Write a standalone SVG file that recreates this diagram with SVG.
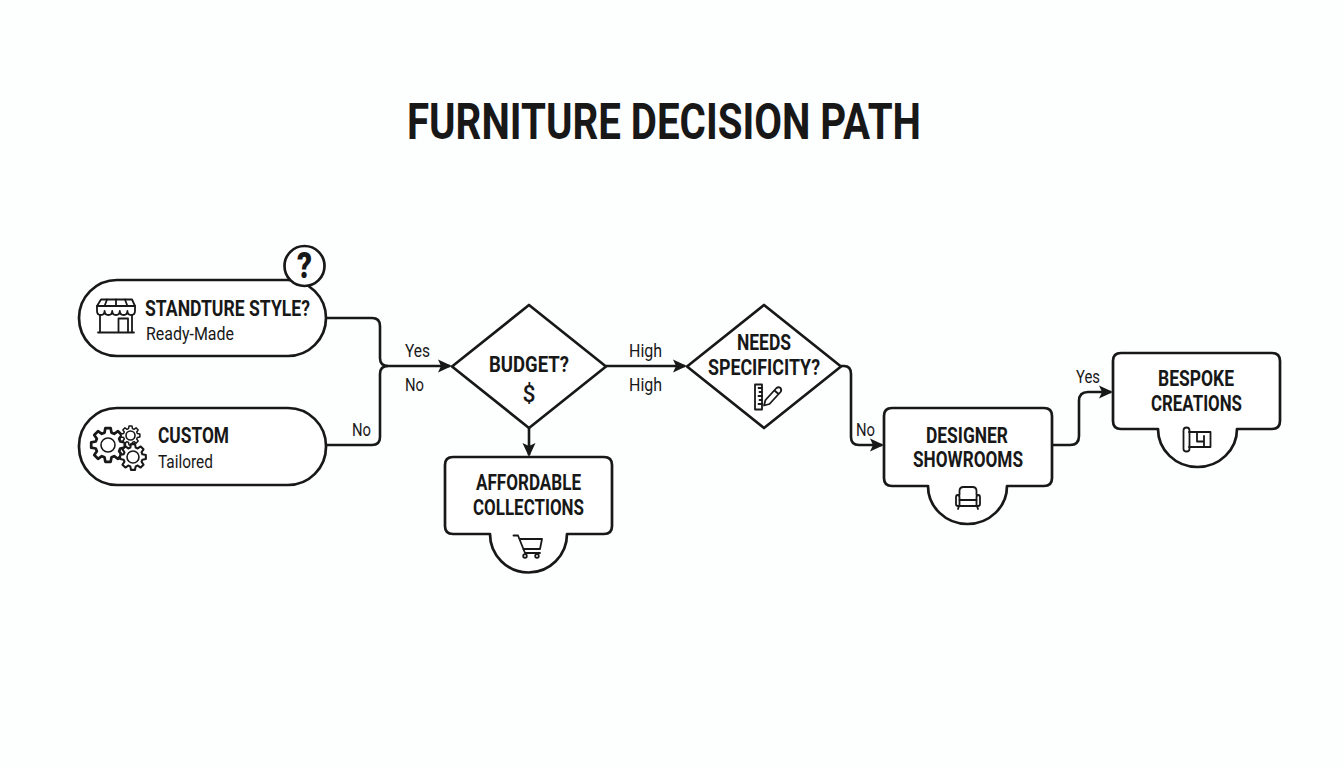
<svg xmlns="http://www.w3.org/2000/svg" width="1344" height="768" viewBox="0 0 1344 768">
<style>
text{font-family:"Roboto","Liberation Sans",sans-serif;fill:#181818;text-anchor:start}
.title{font-size:50px;font-weight:700}
.h{font-size:22.5px;font-weight:700}
.s{font-size:19px;font-weight:400}
.shape{fill:#fff;stroke:#181818;stroke-width:2.7;stroke-linejoin:round}
.conn{fill:none;stroke:#181818;stroke-width:2.6;stroke-linejoin:round}
.ico{fill:none;stroke:#181818;stroke-width:1.8;stroke-linejoin:round;stroke-linecap:round}
.ico *{vector-effect:non-scaling-stroke}
</style>
<defs>
<marker id="arrow" markerUnits="userSpaceOnUse" markerWidth="15" markerHeight="15" refX="12" refY="7.5" orient="auto">
<path d="M0,1 L14,7.500 L0,14 L3,7.500 Z" fill="#181818"/>
</marker>
<polygon id="gear" points="7.21,-2.07 9.88,-1.56 9.88,1.56 7.21,2.07 6.56,3.64 8.09,5.88 5.88,8.09 3.64,6.56 2.07,7.21 1.56,9.88 -1.56,9.88 -2.07,7.21 -3.64,6.56 -5.88,8.09 -8.09,5.88 -6.56,3.64 -7.21,2.07 -9.88,1.56 -9.88,-1.56 -7.21,-2.07 -6.56,-3.64 -8.09,-5.88 -5.88,-8.09 -3.64,-6.56 -2.07,-7.21 -1.56,-9.88 1.56,-9.88 2.07,-7.21 3.64,-6.56 5.88,-8.09 8.09,-5.88 6.56,-3.64"/>
</defs>
<rect width="1344" height="768" fill="#fdfefe"/>
<text id="title" class="title" x="407" y="138.500" textLength="514" lengthAdjust="spacingAndGlyphs">FURNITURE DECISION PATH</text>

<g id="connectors">
<path class="conn" d="M326,318 H372 Q380,318 380,326 V358 Q380,366 388,366 H450" marker-end="url(#arrow)"/>
<path class="conn" d="M326,445 H372 Q380,445 380,437 V374 Q380,366 388,366"/>
<path class="conn" d="M606,366 H685" marker-end="url(#arrow)"/>
<path class="conn" d="M529,428 V455" marker-end="url(#arrow)"/>
<path class="conn" d="M841,366 H844 Q851,366 851,374 V437 Q851,445 859,445 H882" marker-end="url(#arrow)"/>
<path class="conn" d="M1052,445 H1070 Q1079,445 1079,436 V401 Q1079,392 1088,392 H1111" marker-end="url(#arrow)"/>
<text class="s" x="405" y="357" textLength="25" lengthAdjust="spacingAndGlyphs">Yes</text>
<text class="s" x="405" y="391" textLength="19" lengthAdjust="spacingAndGlyphs">No</text>
<text class="s" x="352" y="436" textLength="19" lengthAdjust="spacingAndGlyphs">No</text>
<text class="s" x="629" y="357" textLength="33" lengthAdjust="spacingAndGlyphs">High</text>
<text class="s" x="629" y="391" textLength="33" lengthAdjust="spacingAndGlyphs">High</text>
<text class="s" x="856" y="436" textLength="19" lengthAdjust="spacingAndGlyphs">No</text>
<text class="s" x="1076" y="383" textLength="24" lengthAdjust="spacingAndGlyphs">Yes</text>
</g>

<g id="node-standture">
<rect class="shape" x="79" y="280" width="247" height="76" rx="38"/>
<circle class="shape" cx="304.500" cy="266" r="20"/>
<text x="297" y="278" textLength="15" lengthAdjust="spacingAndGlyphs" style="font-size:36.500px;font-weight:900">?</text>
<g class="ico">
<path d="M101,299.500 H132 L135,306 H97 Z"/>
<path d="M97,306 V311 Q97,315 100.800,315 Q104.600,315 104.600,311 Q104.600,315 108.400,315 Q112.200,315 112.200,311 Q112.200,315 116,315 Q119.800,315 119.800,311 Q119.800,315 123.600,315 Q127.400,315 127.400,311 Q127.400,315 131.200,315 Q135,315 135,311 V306"/>
<path d="M100,315 V332 M132,315 V332 M98,332.500 H134 M118.500,332 V318.500 H128 V332"/>
<path d="M107,299.500 L104.600,306 M116,299.500 V306 M125,299.500 L127.400,306"/>
</g>
<text class="h" x="145" y="316" textLength="165" lengthAdjust="spacingAndGlyphs">STANDTURE STYLE?</text>
<text class="s" x="146" y="340" textLength="88" lengthAdjust="spacingAndGlyphs">Ready-Made</text>
</g>

<g id="node-custom">
<rect class="shape" x="79" y="408" width="247" height="77" rx="38"/>
<g class="ico" style="stroke-width:1.6">
<use href="#gear" transform="translate(108,445) scale(1.7)"/>
<circle cx="108" cy="445" r="7"/>
<use href="#gear" transform="translate(130.500,435.500) scale(0.95)" fill="#fff"/>
<circle cx="130.500" cy="435.500" r="4.500"/>
<use href="#gear" transform="translate(133,457) scale(1.3)" fill="#fff"/>
<circle cx="133" cy="457" r="6"/>
</g>
<text class="h" x="158" y="443" textLength="71" lengthAdjust="spacingAndGlyphs">CUSTOM</text>
<text class="s" x="158" y="468" textLength="55" lengthAdjust="spacingAndGlyphs">Tailored</text>
</g>

<g id="node-budget">
<polygon class="shape" points="452,366.500 529,305 606,366.500 529,428"/>
<text class="h" x="489" y="372" textLength="80" lengthAdjust="spacingAndGlyphs">BUDGET?</text>
<text x="522.500" y="402" textLength="13" lengthAdjust="spacingAndGlyphs" style="font-size:23px;font-weight:500">$</text>
</g>

<g id="node-needs">
<polygon class="shape" points="687,366.500 764,305 841,366.500 764,428"/>
<text class="h" x="737" y="350" textLength="54" lengthAdjust="spacingAndGlyphs">NEEDS</text>
<text class="h" x="708" y="375" textLength="112" lengthAdjust="spacingAndGlyphs">SPECIFICITY?</text>
<g class="ico">
<rect x="755" y="384.500" width="7" height="25"/>
<path d="M758.500,388 H762 M759.500,392 H762 M758.500,396 H762 M759.500,400 H762 M758.500,404 H762"/>
<path d="M764,405.500 L765.500,400 L776.500,388 Q778.500,386.500 780.500,388 Q782,390 780.500,392 L769.500,404 Z M774.500,390.500 L778.500,394"/>
</g>
</g>

<g id="node-affordable">
<path class="shape" d="M453,457 H604 Q612,457 612,465 V526 Q612,534 604,534 H567 A38.500,38.500 0 0 1 490,534 H453 Q445,534 445,526 V465 Q445,457 453,457 Z"/>
<text class="h" x="476" y="490" textLength="105" lengthAdjust="spacingAndGlyphs">AFFORDABLE</text>
<text class="h" x="473" y="515" textLength="111" lengthAdjust="spacingAndGlyphs">COLLECTIONS</text>
<g class="ico">
<path d="M513.500,535.500 H518 L525,553 H540"/>
<path d="M520,539 H542 L540,549 H523.500"/>
<circle cx="525" cy="556" r="1.800"/>
<circle cx="537" cy="556" r="1.800"/>
</g>
</g>

<g id="node-designer">
<path class="shape" d="M892,408 H1044 Q1052,408 1052,416 V478 Q1052,486 1044,486 H1007 A39.500,38 0 0 1 928,486 H892 Q884,486 884,478 V416 Q884,408 892,408 Z"/>
<text class="h" x="926" y="443" textLength="82" lengthAdjust="spacingAndGlyphs">DESIGNER</text>
<text class="h" x="913" y="467" textLength="110" lengthAdjust="spacingAndGlyphs">SHOWROOMS</text>
<g class="ico">
<path d="M959.500,495 V491 Q959.500,487 963.500,487 H972.500 Q976.500,487 976.500,491 V495"/>
<path d="M959.500,500 V497.500 Q959.500,495 957.500,495 Q956,495 956,497.500 V504 Q956,506 958,506 H978 Q980,506 980,504 V497.500 Q980,495 978.500,495 Q976.500,495 976.500,497.500 V500 Z"/>
<path d="M959.500,500 V506 M976.500,500 V506 M959,506 L958,509 M977,506 L978,509"/>
</g>
</g>

<g id="node-bespoke">
<path class="shape" d="M1121,353 H1272 Q1280,353 1280,361 V421 Q1280,429 1272,429 H1237 A39.500,38 0 0 1 1158,429 H1121 Q1113,429 1113,421 V361 Q1113,353 1121,353 Z"/>
<text class="h" x="1158" y="386" textLength="76" lengthAdjust="spacingAndGlyphs">BESPOKE</text>
<text class="h" x="1151" y="411" textLength="91" lengthAdjust="spacingAndGlyphs">CREATIONS</text>
<g class="ico">
<path d="M1189,432 H1210.500 V447 H1189"/>
<path d="M1183.500,430.500 Q1183.500,427.500 1186.500,427.500 Q1189.500,427.500 1189.500,430.500 V449 Q1189.500,451.500 1186.500,451.500 Q1183.500,451.500 1183.500,449 Z"/>
<path d="M1197,432 V441.500 H1204 M1204,436 V447"/>
</g>
</g>
</svg>
